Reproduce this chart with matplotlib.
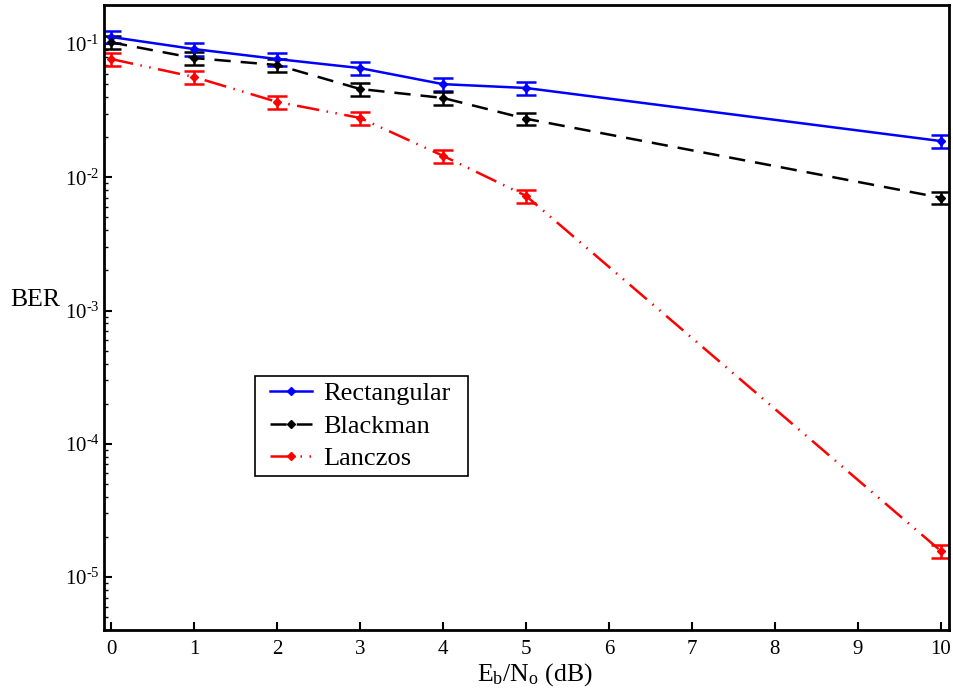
import numpy as np
import matplotlib
matplotlib.use('Agg')
import matplotlib.pyplot as plt
from matplotlib.lines import Line2D
from matplotlib.patches import Rectangle
from matplotlib.ticker import FixedLocator, LogLocator, FuncFormatter, NullFormatter

plt.rcParams['font.family'] = 'Liberation Serif'
plt.rcParams['mathtext.fontset'] = 'custom'
plt.rcParams['mathtext.rm'] = 'Liberation Serif'
plt.rcParams['mathtext.it'] = 'Liberation Serif:italic'

snr_db = [0, 1, 2, 3, 4, 5, 10]

ber_rect = [0.113, 0.0917, 0.0772, 0.066, 0.050, 0.0468, 0.0187]
err_rect = [0.012, 0.010, 0.0085, 0.0073, 0.0055, 0.0052, 0.0021]

ber_black = [0.103, 0.0785, 0.0696, 0.046, 0.0394, 0.0275, 0.00703]
err_black = [0.0113, 0.0086, 0.0077, 0.0051, 0.0043, 0.0030, 0.00077]

ber_lanc = [0.0772, 0.0566, 0.0368, 0.0279, 0.0145, 0.00726, 1.57e-5]
err_lanc = [0.0085, 0.0062, 0.0040, 0.0031, 0.0016, 0.0008, 1.7e-6]

labels = ['Rectangular', 'Blackman', 'Lanczos']
colors = ['#0000ff', '#000000', '#ff0000']

fig = plt.figure(figsize=(9.54, 6.94), dpi=100)
ax = fig.add_axes([0.109, 0.0922, 0.8858, 0.9006])

series = [(ber_rect, err_rect, '-'),
          (ber_black, err_black, (0, (6.5, 4))),
          (ber_lanc, err_lanc, (0, (9, 3, 0.6, 3, 0.6, 3)))]

lw = 1.8
handles = []
for (y, e, ls), lab, c in zip(series, labels, colors):
    ax.errorbar(snr_db, y, yerr=e, color=c, linestyle=ls, linewidth=lw,
                marker='D', markersize=4.5, capsize=7, capthick=1.8,
                elinewidth=1.8)
    # legend shows line and marker only
    handles.append(Line2D([], [], color=c, linestyle=ls, linewidth=lw,
                          marker='D', markersize=4.5, label=lab))

ax.set_yscale('log')
ax.set_xlim(-0.085, 10.1)
ax.set_ylim(10 ** -5.398, 10 ** -0.707)

ax.xaxis.set_major_locator(FixedLocator(range(0, 11)))
ax.yaxis.set_major_locator(FixedLocator([1e-5, 1e-4, 1e-3, 1e-2, 1e-1]))
ax.yaxis.set_minor_locator(LogLocator(base=10, subs=np.arange(2, 10), numticks=20))
ax.yaxis.set_minor_formatter(NullFormatter())
# plain hyphen in the exponent, like the original
ax.yaxis.set_major_formatter(FuncFormatter(
    lambda v, p: '$\\mathregular{10^{\u2010%d}}$' % abs(int(round(np.log10(v))))))

ax.tick_params(axis='both', which='major', direction='in', length=6, width=1.5,
               labelsize=15)
ax.tick_params(axis='x', pad=7)
ax.tick_params(axis='y', pad=3)
ax.tick_params(axis='y', which='minor', direction='in', length=3, width=1)

for s in ax.spines.values():
    s.set_linewidth(2)

ax.set_xlabel(r'E$_\mathregular{b}$/N$_\mathregular{o}$ (dB)', fontsize=18.5)
ax.xaxis.set_label_coords(0.51, -0.05)
ax.set_ylabel('BER', fontsize=18.5, rotation=0, va='center', ha='center')
ax.yaxis.set_label_coords(-0.081, 0.528)

# legend box drawn by hand so the padding matches
ax.add_patch(Rectangle((0.1787, 0.2464), 0.2521, 0.16, transform=ax.transAxes,
                       facecolor='white', edgecolor='black', linewidth=1.2,
                       zorder=4))
leg = ax.legend(handles=handles, loc='center left', bbox_to_anchor=(0.1905, 0.3264),
                borderaxespad=0, fontsize=19, handlelength=1.6, handletextpad=0.4,
                labelspacing=0.35, borderpad=0.19, frameon=False)
leg.set_zorder(5)

fig.savefig('out.png', dpi=100)
